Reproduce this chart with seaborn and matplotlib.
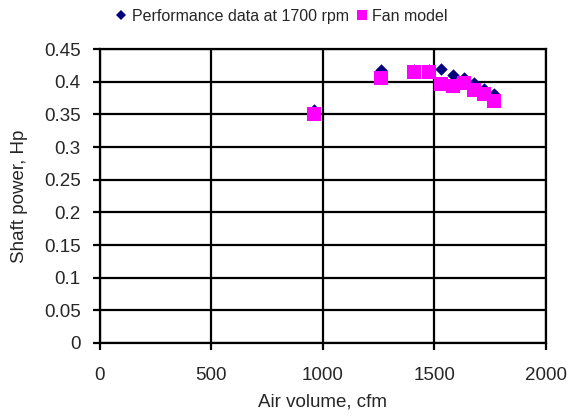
import matplotlib
matplotlib.use("Agg")
import matplotlib.pyplot as plt
from matplotlib.lines import Line2D
import seaborn as sns
import pandas as pd

# Measured performance at 1700 rpm and fan model prediction
air_volume = [960, 1261, 1409, 1475, 1528, 1583, 1632, 1679, 1724, 1768]
power_measured = [0.357, 0.418, 0.418, 0.418, 0.419, 0.410, 0.406, 0.398, 0.389, 0.381]
power_model = [0.351, 0.406, 0.415, 0.415, 0.397, 0.394, 0.398, 0.387, 0.382, 0.370]

x_ticks = [0, 500, 1000, 1500, 2000]
y_ticks = [0, 0.05, 0.1, 0.15, 0.2, 0.25, 0.3, 0.35, 0.4, 0.45]

sns.set_style("white")
plt.rcParams["font.family"] = ["Liberation Sans", "DejaVu Sans"]

df = pd.DataFrame({"cfm": air_volume, "measured": power_measured, "model": power_model})

fig = plt.figure(figsize=(5.68, 4.16), dpi=100)
ax = fig.add_axes([0.176, 0.1755, 0.785, 0.7065])

sns.scatterplot(data=df, x="cfm", y="measured", marker="D", color="#000080",
                s=40, linewidth=0, ax=ax, legend=False, zorder=3)
sns.scatterplot(data=df, x="cfm", y="model", marker="s", color="#FF00FF",
                s=95, linewidth=0, ax=ax, legend=False, zorder=4)

ax.set_xlim(0, 2000)
ax.set_ylim(0, 0.45)
ax.set_xticks(x_ticks)
ax.set_yticks(y_ticks)
ax.set_yticklabels([f"{v:g}" for v in y_ticks])
ax.grid(True, color="black", linewidth=1.6)
for sp in ax.spines.values():
    sp.set_color("black")
    sp.set_linewidth(1.6)
ax.tick_params(axis="both", direction="out", length=5, width=1.6, color="black",
               labelsize=13.5, bottom=True, left=True)
ax.tick_params(axis="x", pad=12)
ax.tick_params(axis="y", pad=9)
ax.set_xlabel("Air volume, cfm", fontsize=13.5, labelpad=7)
ax.set_ylabel("Shaft power, Hp", fontsize=13.5, labelpad=11)

handles = [
    Line2D([], [], linestyle="none", marker="D", color="#000080", markersize=4.6,
           markeredgewidth=0),
    Line2D([], [], linestyle="none", marker="s", color="#FF00FF", markersize=7.4,
           markeredgewidth=0),
]
fig.legend(handles, ["Performance data at 1700 rpm", "Fan model"],
           loc="center", bbox_to_anchor=(0.4965, 0.9615), ncol=2, frameon=False,
           fontsize=11.5, handlelength=0.6, handletextpad=0.35, columnspacing=0.5,
           borderpad=0)

fig.savefig("out.png", dpi=100)
